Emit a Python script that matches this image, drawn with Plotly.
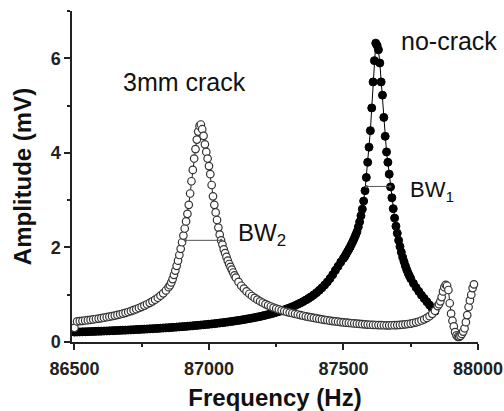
import plotly.graph_objects as go

# ---- no-crack (filled circles) ----
no_crack_freq = [
    86500, 86510, 86520, 86530, 86540, 86550, 86560, 86570, 86580, 86590,
    86600, 86610, 86620, 86630, 86640, 86650, 86660, 86670, 86680, 86690,
    86700, 86710, 86720, 86730, 86740, 86750, 86760, 86770, 86780, 86790,
    86800, 86810, 86820, 86830, 86840, 86850, 86860, 86870, 86880, 86890,
    86900, 86910, 86920, 86930, 86940, 86950, 86960, 86970, 86980, 86990,
    87000, 87010, 87020, 87030, 87040, 87050, 87060, 87070, 87080, 87090,
    87100, 87110, 87120, 87130, 87140, 87150, 87160, 87170, 87180, 87190,
    87200, 87210, 87220, 87230, 87240, 87250, 87260, 87270, 87280, 87290,
    87300, 87310, 87320, 87330, 87340, 87350, 87360, 87370, 87380, 87390,
    87400, 87410, 87420, 87430, 87440, 87450, 87460, 87470, 87480, 87490,
    87500, 87505, 87510, 87515, 87520, 87525, 87530, 87535, 87540, 87545,
    87550, 87555, 87560, 87565, 87570, 87575, 87580, 87585, 87590, 87595,
    87600, 87605, 87610, 87615, 87620, 87625, 87630, 87635, 87640, 87645,
    87650, 87655, 87660, 87665, 87670, 87675, 87680, 87685, 87690, 87695,
    87700, 87705, 87710, 87715, 87720, 87725, 87730, 87735, 87740, 87745,
    87750, 87760, 87770, 87780, 87790, 87800, 87810, 87820, 87830, 87840,
]
no_crack_amp = [
    0.209, 0.211, 0.213, 0.215, 0.217, 0.219, 0.221, 0.223, 0.225, 0.227,
    0.229, 0.232, 0.234, 0.236, 0.239, 0.241, 0.244, 0.246, 0.249, 0.251,
    0.254, 0.257, 0.260, 0.263, 0.266, 0.269, 0.272, 0.275, 0.278, 0.281,
    0.285, 0.288, 0.292, 0.296, 0.299, 0.303, 0.307, 0.311, 0.315, 0.320,
    0.324, 0.329, 0.333, 0.338, 0.343, 0.348, 0.353, 0.359, 0.364, 0.370,
    0.376, 0.382, 0.388, 0.395, 0.402, 0.409, 0.416, 0.423, 0.431, 0.439,
    0.448, 0.456, 0.465, 0.475, 0.485, 0.495, 0.505, 0.516, 0.528, 0.540,
    0.553, 0.566, 0.580, 0.595, 0.610, 0.627, 0.644, 0.662, 0.681, 0.701,
    0.723, 0.746, 0.770, 0.797, 0.825, 0.855, 0.887, 0.922, 0.959, 1.000,
    1.044, 1.093, 1.146, 1.205, 1.270, 1.343, 1.424, 1.516, 1.600, 1.690,
    1.770, 1.81, 1.86, 1.91, 1.96, 2.01, 2.07, 2.13, 2.19, 2.26,
    2.33, 2.43, 2.54, 2.67, 2.81, 2.98, 3.20, 3.48, 3.80, 4.12,
    4.47, 4.95, 5.50, 5.95, 6.32, 6.27, 6.18, 5.90, 5.50, 5.22,
    4.75, 4.35, 4.02, 3.80, 3.55, 3.28, 3.05, 2.82, 2.62, 2.45,
    2.30, 2.15, 2.02, 1.90, 1.79, 1.70, 1.61, 1.53, 1.46, 1.40,
    1.34, 1.24, 1.15, 1.07, 0.99, 0.92, 0.85, 0.78, 0.71, 0.65,
]

# ---- 3mm crack (open circles) ----
crack_freq = [
    86500, 86510, 86520, 86530, 86540, 86550, 86560, 86570, 86580, 86590,
    86600, 86610, 86620, 86630, 86640, 86650, 86660, 86670, 86680, 86690,
    86700, 86710, 86720, 86730, 86740, 86750, 86760, 86770, 86780, 86790,
    86800, 86810, 86820, 86830, 86840, 86850, 86855, 86860, 86865, 86870,
    86875, 86880, 86885, 86890, 86895, 86900, 86905, 86910, 86915, 86920,
    86925, 86930, 86935, 86940, 86945, 86950, 86955, 86960, 86965, 86970,
    86975, 86980, 86985, 86990, 86995, 87000, 87005, 87010, 87015, 87020,
    87025, 87030, 87035, 87040, 87045, 87050, 87055, 87060, 87065, 87070,
    87075, 87080, 87085, 87090, 87095, 87100, 87110, 87120, 87130, 87140,
    87150, 87160, 87170, 87180, 87190, 87200, 87210, 87220, 87230, 87240,
    87250, 87260, 87270, 87280, 87290, 87300, 87310, 87320, 87330, 87340,
    87350, 87360, 87370, 87380, 87390, 87400, 87410, 87420, 87430, 87440,
    87450, 87460, 87470, 87480, 87490, 87500, 87510, 87520, 87530, 87540,
    87550, 87560, 87570, 87580, 87590, 87600, 87610, 87620, 87630, 87640,
    87650, 87660, 87670, 87680, 87690, 87700, 87710, 87720, 87730, 87740,
    87750, 87760, 87770, 87780, 87790, 87800, 87810, 87820, 87830, 87840,
    87850, 87855, 87860, 87865, 87870, 87875, 87880, 87885, 87890, 87895,
    87900, 87905, 87910, 87915, 87920, 87925, 87930, 87935, 87940, 87945,
    87950, 87955, 87960, 87965, 87970, 87975, 87980, 87985,
]
crack_amp = [
    0.30, 0.436, 0.442, 0.448, 0.455, 0.462, 0.470, 0.478, 0.486, 0.495,
    0.504, 0.514, 0.524, 0.535, 0.547, 0.559, 0.572, 0.586, 0.601, 0.617,
    0.634, 0.653, 0.673, 0.695, 0.719, 0.744, 0.770, 0.798, 0.828, 0.860,
    0.895, 0.935, 0.980, 1.030, 1.090, 1.160, 1.20, 1.26, 1.33, 1.42,
    1.51, 1.61, 1.72, 1.84, 1.97, 2.11, 2.25, 2.40, 2.55, 2.71,
    2.90, 3.14, 3.40, 3.64, 3.88, 4.08, 4.28, 4.45, 4.57, 4.60,
    4.50, 4.36, 4.18, 4.02, 3.88, 3.72, 3.55, 3.32, 3.08, 2.90,
    2.74, 2.58, 2.42, 2.27, 2.15, 2.06, 1.96, 1.88, 1.80, 1.72,
    1.65, 1.59, 1.53, 1.47, 1.41, 1.36, 1.27, 1.19, 1.13, 1.07,
    1.02, 0.973, 0.932, 0.895, 0.861, 0.830, 0.801, 0.775, 0.751, 0.728,
    0.707, 0.688, 0.670, 0.653, 0.637, 0.622, 0.608, 0.595, 0.582, 0.570,
    0.555, 0.543, 0.531, 0.520, 0.509, 0.498, 0.488, 0.478, 0.469, 0.460,
    0.451, 0.443, 0.436, 0.429, 0.422, 0.415, 0.409, 0.403, 0.397, 0.392,
    0.387, 0.382, 0.377, 0.373, 0.369, 0.365, 0.362, 0.359, 0.357, 0.355,
    0.354, 0.353, 0.353, 0.354, 0.356, 0.358, 0.362, 0.367, 0.373, 0.381,
    0.390, 0.402, 0.416, 0.433, 0.455, 0.480, 0.510, 0.547, 0.595, 0.660,
    0.760, 0.80, 0.86, 0.95, 1.07, 1.16, 1.21, 1.19, 1.10, 0.82,
    0.60, 0.45, 0.33, 0.21, 0.14, 0.11, 0.11, 0.13, 0.17, 0.22,
    0.29, 0.42, 0.57, 0.74, 0.88, 1.00, 1.14, 1.22,
]

# ---- bandwidth markers ----
bw1_freq = [87586, 87673]
bw1_amp = [3.29, 3.29]
bw2_freq = [86912, 87045]
bw2_amp = [2.15, 2.15]

# ---- axes ----
x_range = [86491, 88000]
y_range = [0, 7]
x_ticks = [86500, 87000, 87500, 88000]
y_ticks = [0, 2, 4, 6]

FONT = "Liberation Sans, Arial, sans-serif"

fig = go.Figure()

fig.add_trace(go.Scatter(
    x=no_crack_freq, y=no_crack_amp, mode="lines+markers",
    line=dict(color="black", width=1),
    marker=dict(symbol="circle", size=8, color="black",
                line=dict(color="black", width=1)),
    showlegend=False, cliponaxis=False,
))
fig.add_trace(go.Scatter(
    x=crack_freq, y=crack_amp, mode="lines+markers",
    line=dict(color="#222", width=1),
    marker=dict(symbol="circle", size=7.5, color="white",
                line=dict(color="#333", width=1.2)),
    showlegend=False, cliponaxis=False,
))
for fx, fy in ((bw1_freq, bw1_amp), (bw2_freq, bw2_amp)):
    fig.add_trace(go.Scatter(
        x=fx, y=fy, mode="lines+markers",
        line=dict(color="#555", width=1),
        marker=dict(size=3, color="#555"),
        showlegend=False,
    ))

annots = [
    dict(x=86908, y=5.49, text="3mm crack", size=25),
    dict(x=87894, y=6.36, text="no-crack", size=25),
]
for a in annots:
    fig.add_annotation(x=a["x"], y=a["y"], text=a["text"], showarrow=False,
                       xanchor="center", yanchor="middle",
                       font=dict(family=FONT, size=a["size"], color="#111"))
fig.add_annotation(x=87740, y=3.19, text="BW<sub>1</sub>", showarrow=False,
                   xanchor="left", yanchor="middle",
                   font=dict(family=FONT, size=22, color="#111"))
fig.add_annotation(x=87101, y=2.28, text="BW<sub>2</sub>", showarrow=False,
                   xanchor="left", yanchor="middle",
                   font=dict(family=FONT, size=24, color="#111"))

axis_common = dict(
    showgrid=False, zeroline=False, showline=True, linecolor="#222",
    linewidth=1.5, ticks="outside", ticklen=6, tickwidth=1.5,
    tickcolor="#222",
    tickfont=dict(family=FONT, size=18, color="#222", weight="bold"),
)
fig.update_xaxes(
    range=x_range, tickvals=x_ticks, ticktext=[str(v) for v in x_ticks],
    ticklabelstandoff=4,
    minor=dict(ticks="outside", ticklen=3, tickwidth=1.5, tickcolor="#222",
               dtick=250, tick0=86500),
    title=dict(text="Frequency (Hz)", standoff=14,
               font=dict(family=FONT, size=24, color="#111", weight="bold")),
    **axis_common,
)
fig.update_yaxes(
    range=y_range, tickvals=y_ticks, ticktext=[str(v) for v in y_ticks],
    minor=dict(ticks="outside", ticklen=3, tickwidth=1.5, tickcolor="#222",
               dtick=1, tick0=0),
    title=dict(text="Amplitude (mV)", standoff=12,
               font=dict(family=FONT, size=24, color="#111", weight="bold")),
    **axis_common,
)
fig.update_layout(
    width=504, height=411,
    margin=dict(l=72, r=26, t=11, b=69, autoexpand=False),
    paper_bgcolor="white", plot_bgcolor="white",
)
fig.write_html("out.html")
